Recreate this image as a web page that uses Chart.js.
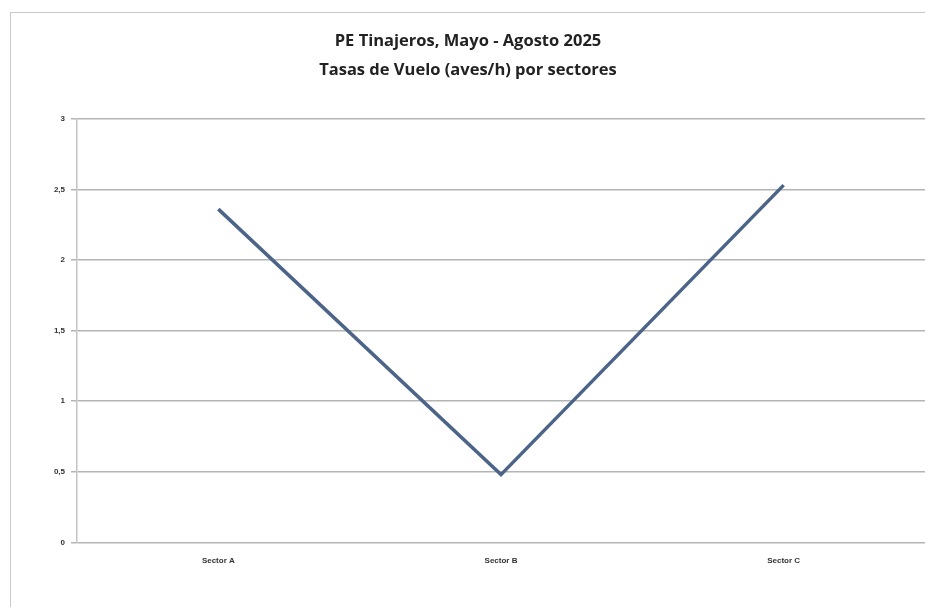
<!DOCTYPE html>
<html>
<head>
<meta charset="utf-8">
<script src="https://cdn.jsdelivr.net/npm/chart.js@4.4.1/dist/chart.umd.min.js"></script>
<style>
  html, body { margin: 0; padding: 0; background: #fff; }
  #frame {
    position: absolute; left: 10px; top: 12px;
    width: 925px; height: 600px;
    border: 1px solid #c8c8c8;
    box-sizing: border-box;
  }
  #wrap { position: absolute; left: 0; top: 0; width: 914px; height: 598px; }
</style>
</head>
<body>
<div id="frame"><div id="wrap"><canvas id="chart"></canvas></div></div>
<script>
const sectors = ['Sector A', 'Sector B', 'Sector C']
const flightRates = [2.36, 0.48, 2.53]
const titleLines = ['PE Tinajeros, Mayo - Agosto 2025', 'Tasas de Vuelo (aves/h) por sectores']

const ctx = document.getElementById('chart').getContext('2d')

new Chart(ctx, {
  type: 'line',
  data: {
    labels: sectors,
    datasets: [{
      label: 'Tasa de vuelo',
      data: flightRates,
      borderColor: '#4b6488',
      borderWidth: 3.5,
      pointRadius: 0,
      tension: 0,
      fill: false
    }]
  },
  options: {
    responsive: true,
    maintainAspectRatio: false,
    animation: false,
    layout: {
      padding: { left: 0, right: 0, top: 6, bottom: 31 }
    },
    plugins: {
      legend: { display: false },
      tooltip: { enabled: false },
      title: {
        display: true,
        text: titleLines,
        color: '#222',
        font: { family: 'Open Sans', size: 16.5, weight: 'bold', lineHeight: 1.75 },
        padding: { top: 8, bottom: 34 }
      }
    },
    scales: {
      x: {
        offset: true,
        grid: { display: false, drawTicks: false },
        border: { display: false },
        ticks: {
          color: '#333',
          padding: 14,
          font: { family: 'Liberation Sans', size: 8, weight: 'bold' }
        }
      },
      y: {
        min: 0,
        max: 3,
        afterFit: function(scale) {
          scale.width = 66
        },
        grid: {
          color: '#b4b4b4',
          lineWidth: 1.5,
          tickLength: 6
        },
        border: { display: true, color: '#c4c4c4', width: 1.5 },
        ticks: {
          stepSize: 0.5,
          color: '#333',
          padding: 6,
          font: { family: 'Liberation Sans', size: 8, weight: 'bold' },
          callback: function(value) {
            return String(value).replace('.', ',')
          }
        }
      }
    }
  }
})
</script>
</body>
</html>
